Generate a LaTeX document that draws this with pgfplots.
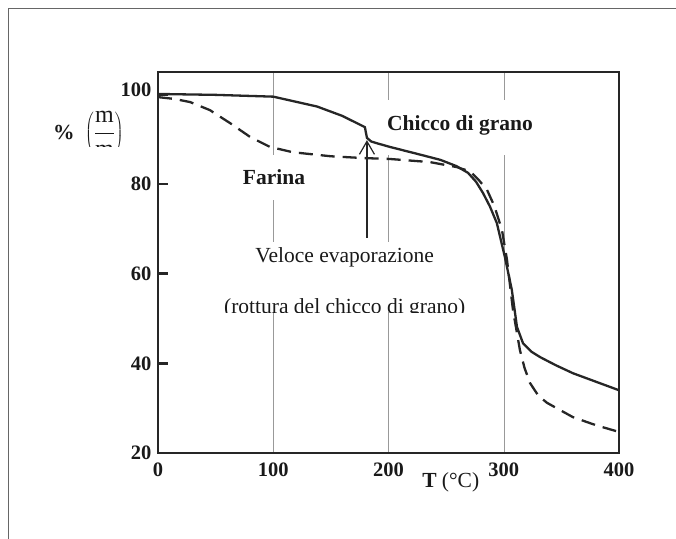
\documentclass[border=0pt]{standalone}
\usepackage{fontspec}
\setmainfont{Liberation Serif}
\usepackage{pgfplots}
\pgfplotsset{compat=1.18}
\usetikzlibrary{arrows.meta}
\begin{document}
\begin{tikzpicture}
\useasboundingbox (0,0) rectangle (676bp,539bp);
\draw[line width=1.3bp, black!60] (8.5bp,-5bp) -- (8.5bp,530.5bp) -- (680bp,530.5bp);
\begin{axis}[
  at={(158bp,86bp)}, anchor=south west,
  scale only axis, width=461bp, height=381bp,
  xmin=0, xmax=400, ymin=20, ymax=105,
  clip=false,
  axis line style={line width=2.6bp, black!85},
  xtick={0,100,200,300,400},
  ytick={20,40,60,80},
  extra y ticks={100},
  extra y tick style={yticklabel style={yshift=5bp}},
  xtick pos=left, ytick pos=left,
  xmajorgrids,
  grid style={black!40, line width=0.5bp},
  major tick length=10bp,
  tick align=inside,
  xtick style={draw=none},
  ytick style={line width=2.6bp, black!85},
  ticklabel style={font=\fontsize{20.5bp}{24bp}\selectfont\bfseries, text=black!90},
  /pgf/number format/assume math mode=true,
  xticklabel style={yshift=-6bp},
  yticklabel style={xshift=-3bp},
]
% white boxes behind text (gaps in grid)
\fill[white] (axis cs:71,76.4) rectangle (axis cs:130,86.5);
\fill[white] (axis cs:192.6,86.5) rectangle (axis cs:331.5,98.7);
\fill[white] (axis cs:54.7,51.45) rectangle (axis cs:268,67.1);

% Chicco di grano (solid)
\addplot[line width=2.3bp, black!85] coordinates {
(0,100.1)(50,99.9)(100,99.5)(138,97.3)(160,95.2)(179.5,92.7)(181.3,90.3)(185,89.5)(190,89.1)(201,88.3)(227,86.6)(245,85.4)(259,84.0)(269,82.5)(276,80.5)(282,78.0)(288,75.0)(294,71.3)(301,63.7)(307,56.4)(311.5,48.1)(316.7,44.5)(324,42.6)(331.5,41.4)(345,39.6)(360,37.8)(380,35.9)(400,34.0)
};
% Farina (dashed)
\addplot[line width=2.3bp, black!85, dash pattern=on 14bp off 8bp] coordinates {
(0,99.4)(14,99.0)(27.8,98.3)(45,96.5)(62.5,93.6)(80,90.5)(97,88.3)(117,87.1)(150,86.2)(178,85.8)(201,85.6)(236,84.9)(259,83.8)(271,82.8)(278,81.0)(285.5,78.7)(292,75.0)(298.5,69.7)(302.8,63.1)(308,51.9)(314,43.0)(318,39.0)(322.8,35.6)(330,32.8)(337.5,31.2)(360,28.0)(380,26.2)(400,24.7)
};

\draw[line width=1.2bp, black!85, -{Straight Barb[length=13bp,width=15bp]}] (axis cs:181.3,68) -- (axis cs:181.3,89.8);

\node[anchor=base, font=\fontsize{21.5bp}{25bp}\selectfont\bfseries, text=black!90] at (axis cs:100.6,79.8) {Farina};
\node[anchor=base, font=\fontsize{21.5bp}{25bp}\selectfont\bfseries, text=black!90] at (axis cs:262,92.0) {Chicco di grano};
\node[anchor=base, font=\fontsize{21.5bp}{25bp}\selectfont, text=black!90] at (axis cs:162,62.4) {Veloce evaporazione};
\begin{scope}
\clip (axis cs:54.7,51.45) rectangle (axis cs:268,67.1);
\node[anchor=base, font=\fontsize{21.5bp}{25bp}\selectfont, text=black!90] at (axis cs:162,51.2) {(rottura del chicco di grano)};
\end{scope}

\node[anchor=base, font=\fontsize{21.5bp}{25bp}\selectfont, text=black!90] at (axis cs:254,12.3) {\textbf{T} (°C)};

\node[font=\fontsize{21.5bp}{25bp}\selectfont\bfseries, text=black!90] at (axis cs:-81.6,91.6) {\%};
\begin{scope}
\clip (axis cs:-74,88.4) rectangle (axis cs:-26,97.0);
\node[font=\fontsize{24bp}{28bp}\selectfont, text=black!90, inner sep=0pt] at (axis cs:-46.5,91.2) {$\displaystyle\left(\frac{\mbox{m}}{\mbox{m}}\right)$};
\end{scope}
\end{axis}
\end{tikzpicture}
\end{document}
